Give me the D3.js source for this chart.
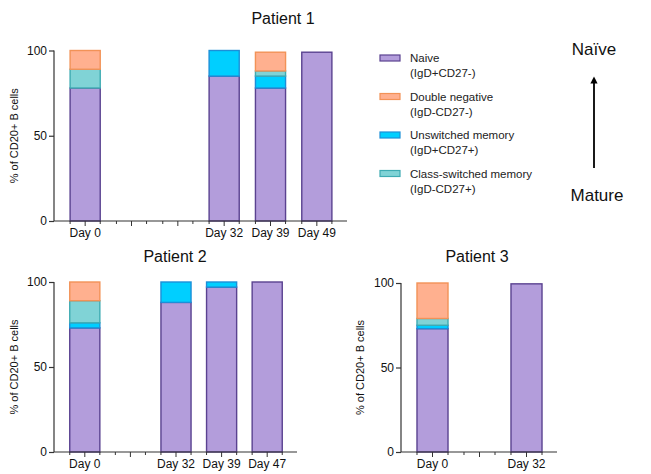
<!DOCTYPE html>
<html>
<head>
<meta charset="utf-8">
<script src="https://cdn.jsdelivr.net/npm/d3@7"></script>
<style>
  body { margin: 0; background: #fff; }
  svg text { font-family: Arial, "Liberation Sans", Helvetica, sans-serif; }
</style>
</head>
<body>
<svg id="drawing_region"></svg>
<script>
// stack order, bottom to top
const subsets = ["Naive", "Unswitched memory", "Class-switched memory", "Double negative"];
const subsetMarkers = ["(IgD+CD27-)", "(IgD+CD27+)", "(IgD-CD27+)", "(IgD-CD27-)"];
const legendOrder = ["Naive", "Double negative", "Unswitched memory", "Class-switched memory"];

// "" = empty slot on the axis
const p1Days = ["Day 0", "", "", "Day 32", "Day 39", "Day 49"];
const p1Naive = [78, 0, 0, 85, 78, 99];
const p1Unsw  = [0, 0, 0, 15, 7, 0];
const p1CSM   = [11, 0, 0, 0, 3, 0];
const p1DN    = [11, 0, 0, 0, 11, 0];

const p2Days = ["Day 0", "", "Day 32", "Day 39", "Day 47"];
const p2Naive = [73, 0, 88, 97, 100];
const p2Unsw  = [3, 0, 12, 3, 0];
const p2CSM   = [13, 0, 0, 0, 0];
const p2DN    = [11, 0, 0, 0, 0];

const p3Days = ["Day 0", "", "Day 32"];
const p3Naive = [73, 0, 99.5];
const p3Unsw  = [2, 0, 0];
const p3CSM   = [4, 0, 0];
const p3DN    = [21, 0, 0];

const yTicks = [0, 50, 100];

const fills   = {"Naive": "#b39ddb", "Double negative": "#ffb08f", "Unswitched memory": "#00cfff", "Class-switched memory": "#80d3d6"};
const strokes = {"Naive": "#5a4290", "Double negative": "#f29257", "Unswitched memory": "#1c8fd8", "Class-switched memory": "#3eabb2"};

const svg = d3.select('#drawing_region')
    .attr('width', 651)
    .attr('height', 474);

function buildRows(days, naive, unsw, csm, dn) {
    return days.map((d, i) => ({
        key: i, label: d,
        "Naive": naive[i], "Unswitched memory": unsw[i],
        "Class-switched memory": csm[i], "Double negative": dn[i]
    }));
}

function drawPanel(cfg, rows) {
    const g = svg.append('g');

    const xscale = d3.scaleBand()
        .domain(rows.map(d => d.key))
        .range([cfg.x0 + 8, cfg.x1 - 7])
        .paddingInner(cfg.pad)
        .paddingOuter(cfg.pad / 2);

    const yscale = d3.scaleLinear()
        .domain([0, 100])
        .range([cfg.y0, cfg.y1]);

    const stacked = d3.stack().keys(subsets)(rows);

    g.selectAll('g.layer')
        .data(stacked)
        .join('g')
        .attr('class', 'layer')
        .attr('fill', d => fills[d.key])
        .attr('stroke', d => strokes[d.key])
        .attr('stroke-width', 1.4)
        .selectAll('rect')
        .data(d => d.filter(v => v[1] - v[0] > 0))
        .join('rect')
        .attr('x', d => xscale(d.data.key))
        .attr('width', xscale.bandwidth())
        .attr('y', d => yscale(d[1]))
        .attr('height', d => yscale(d[0]) - yscale(d[1]));

    // y axis
    const yaxis = d3.axisLeft(yscale).tickValues(yTicks).tickSize(5).tickPadding(2);
    const yg = g.append('g')
        .attr('transform', `translate(${cfg.x0}, 0)`)
        .call(yaxis);
    yg.select('.domain').attr('d', `M0,${cfg.y1}V${cfg.y0}`).attr('stroke', '#333').attr('stroke-width', 1.2);
    yg.selectAll('.tick line').attr('stroke', '#333').attr('stroke-width', 1.2);
    yg.selectAll('.tick text').attr('font-size', '12px').attr('fill', '#111');

    // x axis
    const xg = g.append('g')
        .attr('transform', `translate(0, ${cfg.y0})`);
    xg.append('line')
        .attr('x1', cfg.x0).attr('x2', cfg.x1)
        .attr('stroke', '#333').attr('stroke-width', 1.2);
    const bw = xscale.bandwidth();
    rows.forEach(r => {
        const xs = xscale(r.key);
        [[xs, 3], [xs + bw / 2, 5], [xs + bw, 3]].forEach(t => {
            xg.append('line')
                .attr('x1', t[0]).attr('x2', t[0])
                .attr('y1', 0).attr('y2', t[1])
                .attr('stroke', '#333').attr('stroke-width', 1);
        });
        if (r.label) {
            xg.append('text')
                .attr('x', xs + bw / 2)
                .attr('y', 16)
                .attr('text-anchor', 'middle')
                .attr('font-size', '12px')
                .attr('fill', '#111')
                .text(r.label);
        }
    });

    // titles
    g.append('text')
        .attr('x', cfg.titleX)
        .attr('y', cfg.titleY)
        .attr('text-anchor', 'middle')
        .attr('font-size', '16px')
        .attr('fill', '#111')
        .text(cfg.title);

    g.append('text')
        .attr('transform', `translate(${cfg.labelX}, ${(cfg.y0 + cfg.y1) / 2}) rotate(-90)`)
        .attr('text-anchor', 'middle')
        .attr('font-size', '11px')
        .attr('fill', '#111')
        .text('% of CD20+ B cells');
}

drawPanel({x0: 54, x1: 347, y0: 221, y1: 50.5, pad: 0.35, title: 'Patient 1', titleX: 283, titleY: 24, labelX: 18},
    buildRows(p1Days, p1Naive, p1Unsw, p1CSM, p1DN));
drawPanel({x0: 54, x1: 297, y0: 452, y1: 282, pad: 0.34, title: 'Patient 2', titleX: 175, titleY: 262, labelX: 18},
    buildRows(p2Days, p2Naive, p2Unsw, p2CSM, p2DN));
drawPanel({x0: 401, x1: 557, y0: 452, y1: 283, pad: 0.34, title: 'Patient 3', titleX: 477, titleY: 262, labelX: 364},
    buildRows(p3Days, p3Naive, p3Unsw, p3CSM, p3DN));

// legend
const legend = svg.append('g').attr('transform', 'translate(380, 58)');
legendOrder.forEach((k, i) => {
    const row = legend.append('g').attr('transform', `translate(0, ${i * 38.5})`);
    row.append('rect')
        .attr('x', 0).attr('y', -3)
        .attr('width', 20).attr('height', 6)
        .attr('fill', fills[k]).attr('stroke', strokes[k]).attr('stroke-width', 1.2);
    row.append('text')
        .attr('x', 30).attr('y', 4)
        .attr('font-size', '11.5px').attr('fill', '#222')
        .text(k);
    row.append('text')
        .attr('x', 30).attr('y', 19)
        .attr('font-size', '11.5px').attr('fill', '#222')
        .text(subsetMarkers[subsets.indexOf(k)]);
});

// maturation arrow
svg.append('defs').append('marker')
    .attr('id', 'arrowhead')
    .attr('viewBox', '0 0 10 10')
    .attr('refX', 5).attr('refY', 5)
    .attr('markerWidth', 4).attr('markerHeight', 4)
    .attr('orient', 'auto')
    .append('path')
    .attr('d', 'M0,0L10,5L0,10Z')
    .attr('fill', '#000');

svg.append('line')
    .attr('x1', 594).attr('x2', 594)
    .attr('y1', 168).attr('y2', 80)
    .attr('stroke', '#000').attr('stroke-width', 1.8)
    .attr('marker-end', 'url(#arrowhead)');

svg.append('text')
    .attr('x', 594).attr('y', 55)
    .attr('text-anchor', 'middle')
    .attr('font-size', '17px').attr('fill', '#111')
    .text('Naïve');

svg.append('text')
    .attr('x', 597).attr('y', 201)
    .attr('text-anchor', 'middle')
    .attr('font-size', '17px').attr('fill', '#111')
    .text('Mature');
</script>
</body>
</html>
